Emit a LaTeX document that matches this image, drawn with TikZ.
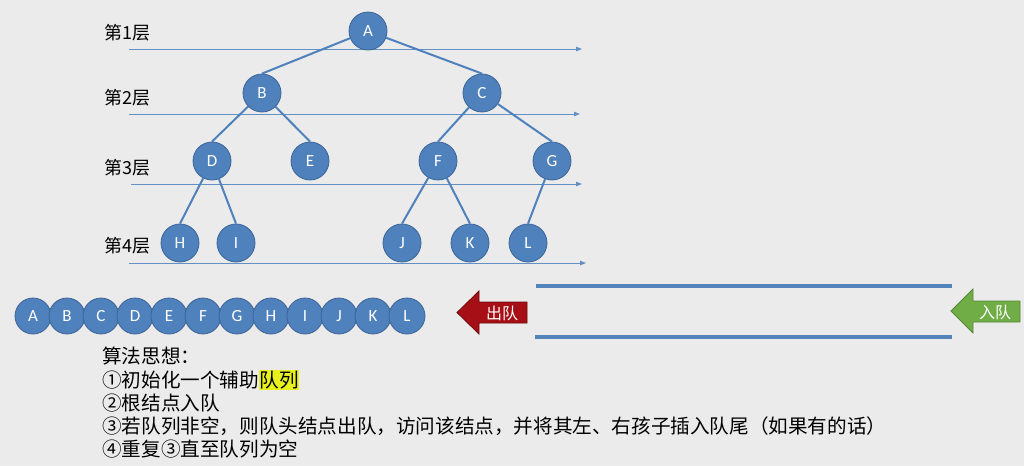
\documentclass[tikz,border=0pt]{standalone}
\usepackage{fontspec}
\setmainfont{Carlito}
\newfontfamily\cjk{Noto Sans CJK SC}
\usetikzlibrary{arrows.meta}
\definecolor{bgc}{RGB}{235,235,235}
\definecolor{nodec}{RGB}{79,129,189}
\definecolor{nodeb}{RGB}{60,100,150}
\definecolor{levelc}{RGB}{100,145,195}
\definecolor{pipec}{RGB}{84,130,186}
\definecolor{outc}{RGB}{165,15,21}
\definecolor{outb}{RGB}{110,10,15}
\definecolor{inc}{RGB}{112,173,71}
\definecolor{inb}{RGB}{85,135,55}
\definecolor{hlc}{RGB}{232,240,30}

\begin{document}
\begin{tikzpicture}[x=1pt,y=-1pt,
  tn/.style={circle,fill=nodec,draw=nodeb,line width=0.8pt,minimum size=38pt,inner sep=0pt,text=white,font=\fontsize{17}{17}\selectfont},
  qn/.style={tn,minimum size=36pt},
  edge/.style={nodec,line width=2pt},
  level/.style={levelc,line width=0.9pt,-{Triangle[length=6pt,width=4.5pt]}},
  pipe/.style={pipec,line width=3.5pt},
  lvl/.style={anchor=west,inner sep=0pt,font=\cjk\fontsize{18}{18}\selectfont},
  arrtxt/.style={inner sep=0pt,text=white,font=\cjk\fontsize{16}{16}\selectfont},
  txt/.style={anchor=west,inner sep=0pt,font=\cjk\fontsize{19.6}{19.6}\selectfont}]
\fill[bgc] (0,0) rectangle (1024,466);
\useasboundingbox (0,0) rectangle (1024,466);
% levels
\foreach \i/\y/\xa/\xb/\ly in {1/49/129/582/33,2/114/129/580/98,3/184/131/582/168,4/263/129/586/246} {
  \coordinate (ls\i) at (\xa,\y);
  \coordinate (le\i) at (\xb,\y);
  \draw[level] (ls\i) -- (le\i);
  \node[lvl] (lab\i) at (104,\ly) {第\i 层};
}
% tree
\foreach \n/\x/\y in {A/368/31,B/262/93,C/482/93,D/212/161,E/310/161,F/438/161,G/552/161,
                      H/180/243,I/236/243,J/402/243,K/470/243,L/528/243} {
  \node[tn] (\n) at (\x,\y) {\n};
}
\foreach \p/\c in {A/B,A/C,B/D,B/E,C/F,C/G,D/H,D/I,F/J,F/K,G/L} {
  \draw[edge] (\p) -- (\c.north);
}
% visiting order
\foreach \n [count=\k from 0] in {A,B,C,D,E,F,G,H,I,J,K,L} {
  \node[qn] (q\n) at (33+34*\k,316) {\n};
}
% queue
\coordinate (pt1) at (536,286);
\coordinate (pt2) at (952,286);
\coordinate (pb1) at (535,337);
\coordinate (pb2) at (952,337);
\draw[pipe] (pt1) -- (pt2);
\draw[pipe] (pb1) -- (pb2);
\filldraw[fill=outc,draw=outb,line width=0.8pt] (457,312.5) -- (479,291) -- (479,302) -- (527,302)
  -- (527,323) -- (479,323) -- (479,334) -- cycle;
\node[arrtxt] (deq) at (502,313) {出队};
\filldraw[fill=inc,draw=inb,line width=0.8pt] (951,311) -- (973,289) -- (973,301) -- (1020,301)
  -- (1020,322) -- (973,322) -- (973,333) -- cycle;
\node[arrtxt] (enq) at (995,312) {入队};
% steps
\node[txt] (s0) at (102,356) {算法思想：};
\node[txt] (s1) at (102,380) {①初始化一个辅助{\setlength{\fboxsep}{0.5pt}\colorbox{hlc}{队列}}};
\node[txt] (s2) at (102,403) {②根结点入队};
\node[txt] (s3) at (102,426) {③若队列非空，则队头结点出队，访问该结点，并将其左、右孩子插入队尾（如果有的话）};
\node[txt] (s4) at (102,449) {④重复③直至队列为空};
\end{tikzpicture}
\end{document}
